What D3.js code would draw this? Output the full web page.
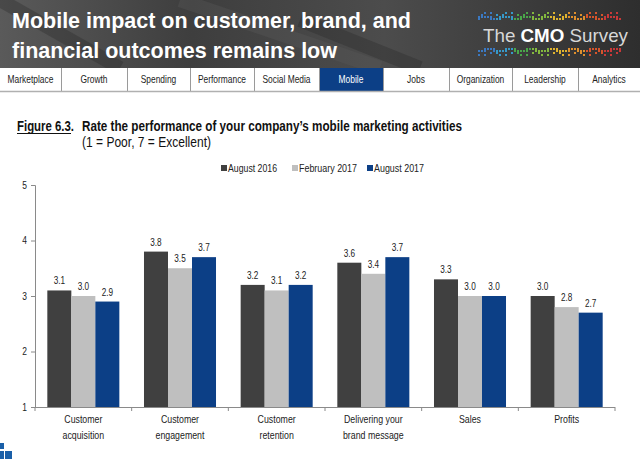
<!DOCTYPE html>
<html><head><meta charset="utf-8">
<script src="https://cdn.jsdelivr.net/npm/d3@7"></script>
<style>
html,body{margin:0;padding:0;background:#fff;}
svg{display:block;}
text{font-family:"Liberation Sans",Arial,sans-serif;}
</style></head>
<body>
<svg id="c" width="640" height="462"></svg>
<script>
const categories = [["Customer","acquisition"],["Customer","engagement"],["Customer","retention"],["Delivering your","brand message"],["Sales"],["Profits"]];
const seriesNames = ["August 2016","February 2017","August 2017"];
const aug2016 = [3.1,3.8,3.2,3.6,3.3,3.0];
const feb2017 = [3.0,3.5,3.1,3.4,3.0,2.8];
const aug2017 = [2.9,3.7,3.2,3.7,3.0,2.7];
const yTicks = [1,2,3,4,5];
const tabs = ["Marketplace","Growth","Spending","Performance","Social Media","Mobile","Jobs","Organization","Leadership","Analytics"];
const tabEdges = [0,61,127,190,254,319,383,449,512,578,640];
const colors = ["#404040","#bfbfbf","#0c3f86"];

function narrow(sel, f){ sel.each(function(){ const w=this.getComputedTextLength(); this.setAttribute("textLength", (w*f).toFixed(1)); this.setAttribute("lengthAdjust","spacingAndGlyphs"); }); return sel; }
function fit(sel, w){ sel.attr("textLength", w).attr("lengthAdjust","spacingAndGlyphs"); return sel; }

const svg = d3.select("#c");
const defs = svg.append("defs");
const g1 = defs.append("linearGradient").attr("id","hdr").attr("x1","0").attr("x2","1").attr("y1","0").attr("y2","0");
g1.append("stop").attr("offset","0").attr("stop-color","#5a5a5a");
g1.append("stop").attr("offset","0.3").attr("stop-color","#3e3e3e");
g1.append("stop").attr("offset","0.6").attr("stop-color","#4c4c4c");
g1.append("stop").attr("offset","1").attr("stop-color","#2e2e2e");

// header
svg.append("rect").attr("x",0).attr("y",0).attr("width",640).attr("height",68).attr("fill","url(#hdr)");
[[0,0,120,68],[180,0,380,68],[300,20,420,68]].forEach(([x1,y1,x2,y2],i)=>{
  svg.append("line").attr("x1",x1).attr("y1",y1).attr("x2",x2).attr("y2",y2)
   .attr("stroke", i%2? "#5a5a5a":"#2a2a2a").attr("stroke-width",14).attr("opacity",0.35);
});
svg.append("text").attr("x",12).attr("y",28).attr("fill","#fff")
  .style("font-weight","bold").style("font-size","21.5px")
  .text("Mobile impact on customer, brand, and");
svg.append("text").attr("x",12).attr("y",58).attr("fill","#fff")
  .style("font-weight","bold").style("font-size","21.5px")
  .text("financial outcomes remains low");

// logo
const logo = svg.append("text").attr("x",483).attr("y",42).attr("fill","#d8d8d8").style("font-size","19px");
logo.append("tspan").text("The ");
logo.append("tspan").style("font-weight","bold").attr("fill","#fff").text("CMO");
logo.append("tspan").text(" Survey");
fit(logo, 145);
const dotCols = ["#3b7fd0","#35a3d8","#4bb34b","#8cc63f","#f2c12e","#f39a2b","#e8582a","#d93a3a"];
for (let row=0; row<2; row++){
  const yb = row===0 ? 12 : 48;
  for (let i=0;i<48;i++){
    const x = 478 + i*3;
    const c = dotCols[Math.min(7, Math.floor(i/6))];
    const hs = [[0,2],[2],[0,4],[2,6],[0],[4,2],[0,2,6]][ (i*5+row*3)%7 ];
    hs.forEach(h=>{
      svg.append("rect").attr("x",x).attr("y", row===0 ? yb + 6 - h : yb + h).attr("width",2).attr("height",2).attr("fill",c).attr("opacity",0.9);
    });
  }
}

// nav
svg.append("rect").attr("x",0).attr("y",68).attr("width",640).attr("height",23).attr("fill","#fff");
tabs.forEach((t,i)=>{
  const x0 = tabEdges[i], x1 = tabEdges[i+1];
  if (t==="Mobile") svg.append("rect").attr("x",x0).attr("y",68).attr("width",x1-x0).attr("height",23).attr("fill","#0c3f86");
  if (i>0) svg.append("line").attr("x1",x0+0.5).attr("x2",x0+0.5).attr("y1",68).attr("y2",91).attr("stroke","#9a9a9a");
  narrow(svg.append("text").attr("x",(x0+x1)/2).attr("y",83).attr("text-anchor","middle")
    .attr("fill", t==="Mobile" ? "#fff" : "#222").style("font-size","10.5px").text(t), 0.8);
});
svg.append("line").attr("x1",0).attr("x2",640).attr("y1",91.5).attr("y2",91.5).attr("stroke","#b0b0b0").attr("stroke-width",1.5);

// caption
fit(svg.append("text").attr("x",17).attr("y",131).attr("fill","#111")
  .style("font-size","14px").style("font-weight","bold").text("Figure 6.3."), 57);
svg.append("line").attr("x1",17).attr("x2",71).attr("y1",133.5).attr("y2",133.5).attr("stroke","#111").attr("stroke-width",1);
fit(svg.append("text").attr("x",82).attr("y",131).attr("fill","#111").style("font-size","14px").style("font-weight","bold")
  .text("Rate the performance of your company\u2019s mobile marketing activities"), 380);
fit(svg.append("text").attr("x",82).attr("y",147).attr("fill","#111").style("font-size","14px")
  .text("(1 = Poor, 7 = Excellent)"), 129);

// legend
const legX = [221,292,367];
const legW = [49,58,50];
seriesNames.forEach((s,i)=>{
  svg.append("rect").attr("x",legX[i]).attr("y",165).attr("width",6).attr("height",6).attr("fill",colors[i]);
  fit(svg.append("text").attr("x",legX[i]+7).attr("y",172).attr("fill","#222").style("font-size","10.5px").text(s), legW[i]);
});

// chart
const x0 = d3.scaleBand().domain(d3.range(categories.length)).range([35,615]).paddingInner(0.255).paddingOuter(0.1275);
const x1 = d3.scaleBand().domain(d3.range(3)).range([0,x0.bandwidth()]);
const y = d3.scaleLinear().domain([1,5]).range([407,185]);
const series = [aug2016,feb2017,aug2017];

const gy = svg.append("g").attr("transform","translate(35,0)")
  .call(d3.axisLeft(y).tickValues(yTicks).tickFormat(d3.format("d")).tickSize(4).tickPadding(4));
gy.select(".domain").attr("stroke","#8a8a8a");
gy.selectAll(".tick line").attr("stroke","#8a8a8a");
narrow(gy.selectAll("text").style("font-size","10.5px").attr("fill","#222").style("font-family","'Liberation Sans',Arial,sans-serif"), 0.8);

const bars = svg.append("g");
categories.forEach((c,ci)=>{
  series.forEach((arr,si)=>{
    const xx = x0(ci)+x1(si);
    bars.append("rect").attr("x",xx).attr("y",y(arr[ci])).attr("width",x1.bandwidth()).attr("height",y(1)-y(arr[ci]))
      .attr("fill",colors[si]);
    narrow(bars.append("text").attr("x",xx+x1.bandwidth()/2).attr("y",y(arr[ci])-6).attr("text-anchor","middle")
      .attr("fill","#222").style("font-size","10.5px").text(d3.format(".1f")(arr[ci])), 0.78);
  });
});

// x axis
svg.append("line").attr("x1",35).attr("x2",615).attr("y1",407.5).attr("y2",407.5).attr("stroke","#8a8a8a");
d3.range(categories.length+1).forEach(i=>{
  const xx = 35 + i*x0.step();
  svg.append("line").attr("x1",xx).attr("x2",xx).attr("y1",407).attr("y2",411).attr("stroke","#8a8a8a");
});
categories.forEach((c,ci)=>{
  c.forEach((line,li)=>{
    narrow(svg.append("text").attr("x",x0(ci)+x0.bandwidth()/2).attr("y",423+li*16).attr("text-anchor","middle")
      .attr("fill","#222").style("font-size","11px").text(line), 0.8);
  });
});

// bottom-left logo squares
[[0,443,4,6],[0,451,4,8],[5,451,7,8]].forEach(([x,yy,w,h])=>{
  svg.append("rect").attr("x",x).attr("y",yy).attr("width",w).attr("height",h).attr("fill","#1a5fa8");
});
</script>
</body></html>
